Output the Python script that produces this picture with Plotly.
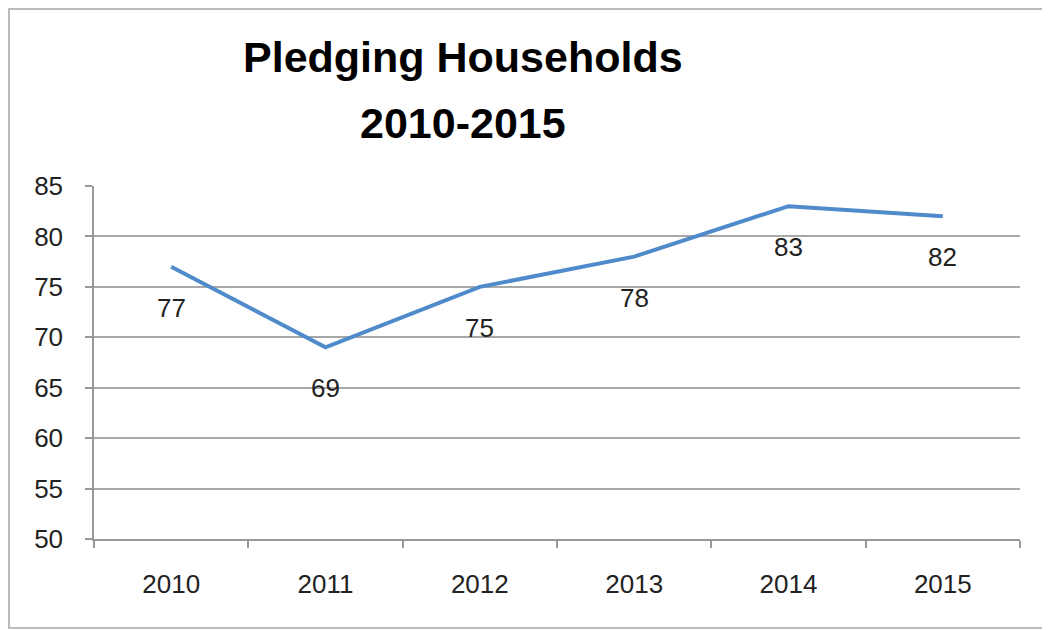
import plotly.graph_objects as go

years = ["2010", "2011", "2012", "2013", "2014", "2015"]
households = [77, 69, 75, 78, 83, 82]
y_ticks = [50, 55, 60, 65, 70, 75, 80, 85]
title_lines = ["Pledging Households", "2010-2015"]

# page body adds an 8px offset, so the figure is slightly smaller
W, H = 1042, 622
L, R, T, B = 86, 30, 178, 91
pw, ph = W - L - R, H - T - B
FONT = "Liberation Sans, Arial, Helvetica, sans-serif"


def px_x(p):
    return (p - L) / pw


def px_y(p):
    return (H - B - p) / ph


fig = go.Figure()
fig.add_trace(go.Scatter(
    x=years, y=households, mode="lines",
    line=dict(color="#4F8BCB", width=4),
    hoverinfo="skip", showlegend=False,
))

for i, v in enumerate(households):
    fig.add_annotation(x=i, y=v, xref="x", yref="y", text=str(v),
                       showarrow=False, yshift=-41,
                       font=dict(size=26, color="#222222", family=FONT))

for line_text, cy in zip(title_lines, [49, 115]):
    fig.add_annotation(x=px_x(455), xref="paper", y=px_y(cy), yref="paper",
                       xanchor="center", yanchor="middle",
                       text="<b>" + line_text + "</b>", showarrow=False,
                       font=dict(size=43, color="black", family=FONT))

fig.add_shape(type="rect", xref="paper", yref="paper",
              x0=px_x(1), x1=px_x(1040), y0=px_y(620), y1=px_y(1),
              line=dict(color="#BBBBBB", width=2), layer="below")

fig.update_layout(
    width=W, height=H,
    margin=dict(l=L, r=R, t=T, b=B),
    paper_bgcolor="white", plot_bgcolor="white",
    font=dict(family=FONT, color="#222222"),
    xaxis=dict(type="category", tickson="boundaries", ticks="outside",
               ticklen=7, tickcolor="#999999", tickwidth=1.5,
               showline=True, linecolor="#999999", linewidth=1.5,
               showgrid=False, tickfont=dict(size=26), ticklabelstandoff=21,
               range=[-0.5, 5.5]),
    yaxis=dict(range=[50, 85], tickvals=y_ticks, ticks="outside",
               ticklen=7, tickcolor="#999999", tickwidth=1.5,
               showline=True, linecolor="#999999", linewidth=1.5,
               showgrid=True, gridcolor="#A8A8A8", gridwidth=1.5,
               tickfont=dict(size=26), ticklabelstandoff=17, zeroline=False),
)

fig.write_html("out.html")
